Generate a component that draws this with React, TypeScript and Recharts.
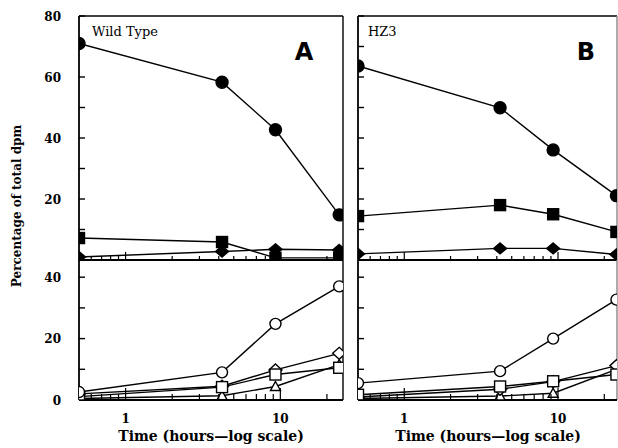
import React from 'react';
import { LineChart, Line, XAxis, YAxis, ReferenceLine } from 'recharts';

// ---- data ----
const times = [0.5, 4.2, 9.3, 24];

// Panel A (Wild Type), upper
const aFilledCircle = [71, 58.3, 42.7, 14.8];
const aFilledSquare = [7.2, 5.9, 0.7, 0.7];
const aFilledDiamond = [1.0, 2.8, 3.5, 3.3];
// Panel A, lower
const aOpenCircle = [2.6, 9.0, 24.8, 37.0];
const aOpenDiamond = [2.0, 4.5, 9.8, 15.2];
const aOpenSquare = [1.1, 4.2, 8.3, 10.5];
const aOpenTriangle = [0.5, 1.4, 4.4, 11.5];

// Panel B (HZ3), upper
const bFilledCircle = [63.6, 49.9, 36.1, 21.1];
const bFilledSquare = [14.4, 18.0, 15.0, 9.2];
const bFilledDiamond = [2.0, 3.8, 3.8, 1.8];
// Panel B, lower
const bOpenCircle = [5.5, 9.4, 20.0, 32.7];
const bOpenDiamond = [1.0, 3.5, 6.0, 11.2];
const bOpenSquare = [1.7, 4.4, 6.1, 8.3];
const bOpenTriangle = [0.5, 1.3, 2.2, 10.0];

// ticks
const xTicks = [0.6, 0.7, 0.8, 0.9, 1, 2, 3, 4, 5, 6, 7, 8, 9, 10, 20];
const xMajor = [1, 10];
const yTopTicks = [0, 10, 20, 30, 40, 50, 60, 70, 80];
const yBottomTicks = [0, 10, 20, 30, 40];
const yTopLabels = [20, 40, 60, 80];
const yBottomLabels = [0, 20, 40];

const SERIF = '"DejaVu Serif", "Liberation Serif", serif';
const SANS = '"DejaVu Sans", "Liberation Sans", sans-serif';

type Shape = 'circle' | 'square' | 'diamond' | 'triangle';

function makeDot(shape: Shape, filled: boolean) {
  return (props: any) => {
    const { cx, cy, index } = props;
    const k = `dot-${shape}-${filled ? 'f' : 'o'}-${index}`;
    if (cx == null || cy == null) return <g key={k} />;
    const st = { stroke: '#000', strokeWidth: 1.4, fill: filled ? '#000' : '#fff' };
    if (shape === 'circle') return <circle key={k} cx={cx} cy={cy} r={filled ? 6 : 5.5} {...st} />;
    if (shape === 'square') {
      const h = 5.5;
      return <rect key={k} x={cx - h} y={cy - h} width={2 * h} height={2 * h} {...st} />;
    }
    if (shape === 'diamond') {
      const w = 6.5, h = filled ? 5.5 : 6;
      return <polygon key={k} points={`${cx},${cy - h} ${cx + w},${cy} ${cx},${cy + h} ${cx - w},${cy}`} {...st} />;
    }
    const w = 5, h = 5;
    return <polygon key={k} points={`${cx},${cy - h} ${cx + w},${cy + h * 0.8} ${cx - w},${cy + h * 0.8}`} {...st} />;
  };
}

function makeYTick(labels: number[]) {
  return (props: any) => {
    const { x, y, payload } = props;
    const v = payload.value;
    return (
      <g>
        <line x1={x} x2={x + 6} y1={y} y2={y} stroke="#000" strokeWidth={1.4} />
        {labels.includes(v) ? (
          <text x={x - 18} y={y} dy={4.5} textAnchor="end" fontFamily={SERIF} fontWeight="bold" fontSize={12} fill="#000">
            {v}
          </text>
        ) : null}
      </g>
    );
  };
}

function makeXTick(minorLen: number, majorLen: number, showLabels: boolean) {
  return (props: any) => {
    const { x, y, payload } = props;
    const v = payload.value;
    const major = xMajor.includes(v);
    const len = major ? majorLen : minorLen;
    return (
      <g>
        <line x1={x} x2={x} y1={y} y2={y - len} stroke="#000" strokeWidth={1.2} />
        {showLabels && major ? (
          <text x={x} y={y + 23} textAnchor="middle" fontFamily={SERIF} fontWeight="bold" fontSize={12} fill="#000">
            {v}
          </text>
        ) : null}
      </g>
    );
  };
}

type SeriesDef = { key: string; values: number[]; shape: Shape; filled: boolean };

type PanelProps = {
  left: number;
  chartWidth: number;
  chartHeight: number;
  marginTop: number;
  marginRight: number;
  yWidth: number;
  xHeight: number;
  xDomain: [number, number];
  yDomain: [number, number];
  yTicks: number[];
  yLabels: number[];
  xMinor: number;
  xMajorLen: number;
  showXLabels: boolean;
  series: SeriesDef[];
  topBorder: boolean;
  rightBorderColor: string;
};

function Panel(p: PanelProps) {
  const data = times.map((t, i) => {
    const row: any = { t };
    p.series.forEach((s) => {
      row[s.key] = s.values[i];
    });
    return row;
  });
  return (
    <div style={{ position: 'absolute', left: p.left, top: 0 }}>
      <LineChart
        width={p.chartWidth}
        height={p.chartHeight}
        data={data}
        margin={{ top: p.marginTop, right: p.marginRight, bottom: 0, left: 0 }}
      >
        <XAxis
          dataKey="t"
          type="number"
          scale="log"
          domain={p.xDomain}
          allowDataOverflow
          ticks={xTicks}
          interval={0}
          height={p.xHeight}
          tickSize={0}
          tickMargin={0}
          tickLine={false}
          axisLine={{ stroke: '#000', strokeWidth: 1.8 }}
          tick={makeXTick(p.xMinor, p.xMajorLen, p.showXLabels)}
        />
        <YAxis
          type="number"
          domain={p.yDomain}
          allowDataOverflow
          ticks={p.yTicks}
          interval={0}
          width={p.yWidth}
          tickSize={0}
          tickMargin={0}
          tickLine={false}
          axisLine={{ stroke: '#000', strokeWidth: 1.8 }}
          tick={makeYTick(p.yLabels)}
        />
        {p.topBorder ? <ReferenceLine y={p.yDomain[1]} stroke="#000" strokeWidth={1.6} /> : null}
        <ReferenceLine x={p.xDomain[1]} stroke={p.rightBorderColor} strokeWidth={1.4} />
        {p.series.map((s) => (
          <Line
            key={s.key}
            dataKey={s.key}
            type="linear"
            stroke="#000"
            strokeWidth={1.4}
            dot={makeDot(s.shape, s.filled)}
            activeDot={false}
            isAnimationActive={false}
          />
        ))}
      </LineChart>
    </div>
  );
}

const topA: SeriesDef[] = [
  { key: 'fd', values: aFilledDiamond, shape: 'diamond', filled: true },
  { key: 'fs', values: aFilledSquare, shape: 'square', filled: true },
  { key: 'fc', values: aFilledCircle, shape: 'circle', filled: true },
];
const bottomA: SeriesDef[] = [
  { key: 'ot', values: aOpenTriangle, shape: 'triangle', filled: false },
  { key: 'od', values: aOpenDiamond, shape: 'diamond', filled: false },
  { key: 'os', values: aOpenSquare, shape: 'square', filled: false },
  { key: 'oc', values: aOpenCircle, shape: 'circle', filled: false },
];
const topB: SeriesDef[] = [
  { key: 'fd', values: bFilledDiamond, shape: 'diamond', filled: true },
  { key: 'fs', values: bFilledSquare, shape: 'square', filled: true },
  { key: 'fc', values: bFilledCircle, shape: 'circle', filled: true },
];
const bottomB: SeriesDef[] = [
  { key: 'ot', values: bOpenTriangle, shape: 'triangle', filled: false },
  { key: 'od', values: bOpenDiamond, shape: 'diamond', filled: false },
  { key: 'os', values: bOpenSquare, shape: 'square', filled: false },
  { key: 'oc', values: bOpenCircle, shape: 'circle', filled: false },
];

const A_X: [number, number] = [0.5, 25.4];
const B_X: [number, number] = [0.5, 24.2];
const TOP_Y: [number, number] = [0, 80];
const BOT_Y: [number, number] = [0, 45.6];

export default function App() {
  return (
    <div style={{ position: 'absolute', left: 0, top: 0, width: 618, height: 448, background: '#fff', overflow: 'hidden' }}>
      {/* Panel A */}
      <Panel left={0} chartWidth={79 + 264 + 3} chartHeight={280} marginTop={16} marginRight={3} yWidth={79} xHeight={20}
        xDomain={A_X} yDomain={TOP_Y} yTicks={yTopTicks} yLabels={yTopLabels} xMinor={4} xMajorLen={8} showXLabels={false}
        series={topA} topBorder rightBorderColor="#000" />
      <Panel left={0} chartWidth={79 + 264 + 3} chartHeight={448} marginTop={260} marginRight={3} yWidth={79} xHeight={48}
        xDomain={A_X} yDomain={BOT_Y} yTicks={yBottomTicks} yLabels={yBottomLabels} xMinor={6} xMajorLen={12} showXLabels
        series={bottomA} topBorder={false} rightBorderColor="#000" />
      {/* Panel B */}
      <Panel left={338} chartWidth={20 + 259 + 1} chartHeight={280} marginTop={16} marginRight={1} yWidth={20} xHeight={20}
        xDomain={B_X} yDomain={TOP_Y} yTicks={yTopTicks} yLabels={[]} xMinor={4} xMajorLen={8} showXLabels={false}
        series={topB} topBorder rightBorderColor="#888" />
      <Panel left={338} chartWidth={20 + 259 + 1} chartHeight={448} marginTop={260} marginRight={1} yWidth={20} xHeight={48}
        xDomain={B_X} yDomain={BOT_Y} yTicks={yBottomTicks} yLabels={[]} xMinor={6} xMajorLen={12} showXLabels
        series={bottomB} topBorder={false} rightBorderColor="#888" />
      {/* Text overlay */}
      <svg width={618} height={448} style={{ position: 'absolute', left: 0, top: 0, pointerEvents: 'none' }}>
        <text x={92} y={36} fontFamily={SERIF} fontSize={13} fill="#000">Wild Type</text>
        <text x={368} y={36} fontFamily={SERIF} fontSize={13} fill="#000">HZ3</text>
        <text x={304} y={60} textAnchor="middle" fontFamily={SANS} fontWeight="bold" fontSize={24} fill="#000">A</text>
        <text x={586} y={60} textAnchor="middle" fontFamily={SANS} fontWeight="bold" fontSize={24} fill="#000">B</text>
        <text x={211} y={441} textAnchor="middle" fontFamily={SERIF} fontWeight="bold" fontSize={14} fill="#000">Time (hours—log scale)</text>
        <text x={488} y={441} textAnchor="middle" fontFamily={SERIF} fontWeight="bold" fontSize={14} fill="#000">Time (hours—log scale)</text>
        <text x={0} y={0} transform="translate(21,206) rotate(-90)" textAnchor="middle" fontFamily={SERIF} fontWeight="bold" fontSize={12} fill="#000">Percentage of total dpm</text>
      </svg>
    </div>
  );
}
